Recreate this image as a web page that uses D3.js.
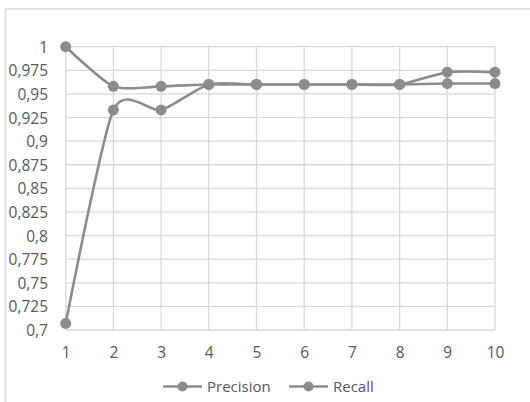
<!DOCTYPE html>
<html>
<head>
<meta charset="utf-8">
<script src="https://cdn.jsdelivr.net/npm/d3@7"></script>
<style>
  html, body { margin: 0; padding: 0; background: #fff; }
  svg { display: block; }
  text { font-family: "Open Sans", "Liberation Sans", sans-serif; fill: #595959; }
</style>
</head>
<body>
<svg id="chart" width="530" height="402"></svg>
<script>
// Data
const categories = [1, 2, 3, 4, 5, 6, 7, 8, 9, 10];
const precision = [1.000, 0.958, 0.958, 0.960, 0.960, 0.960, 0.960, 0.960, 0.961, 0.961];
const recall    = [0.707, 0.933, 0.933, 0.960, 0.960, 0.960, 0.960, 0.960, 0.973, 0.973];
const yTicks = [0.7, 0.725, 0.75, 0.775, 0.8, 0.825, 0.85, 0.875, 0.9, 0.925, 0.95, 0.975, 1];
const seriesNames = ["Precision", "Recall"];

const svg = d3.select("#chart");
const W = 530, H = 402;
const lineColor = "#8c8c8c";
const gridColor = "#d9d9d9";

svg.append("rect").attr("width", W).attr("height", H).attr("fill", "#fff");

// chart frame (only its top and left edges fall inside the view)
svg.append("rect")
  .attr("x", 5.5).attr("y", 9)
  .attr("width", 700).attr("height", 600)
  .attr("fill", "none").attr("stroke", gridColor).attr("stroke-width", 1.5);

const x = d3.scaleLinear().domain([1, 10]).range([65.7, 495]);
const y = d3.scaleLinear().domain([0.7, 1]).range([330, 46.7]);

// gridlines
const grid = svg.append("g");
grid.selectAll("line.h").data(yTicks).join("line")
  .attr("x1", x(1)).attr("x2", x(10))
  .attr("y1", d => y(d)).attr("y2", d => y(d))
  .attr("stroke", gridColor).attr("stroke-width", 1.3);
grid.selectAll("line.v").data(categories).join("line")
  .attr("y1", y(0.7)).attr("y2", y(1))
  .attr("x1", d => x(d)).attr("x2", d => x(d))
  .attr("stroke", gridColor).attr("stroke-width", 1.3);

// y-axis labels, clipped by the frame
svg.append("clipPath").attr("id", "frameClip")
  .append("rect").attr("x", 6.5).attr("y", 0).attr("width", W).attr("height", H);

const fmt = v => d3.format("")(+v.toFixed(3)).replace(".", ",");
const yAxis = d3.axisLeft(y).tickValues(yTicks).tickSize(0).tickPadding(0).tickFormat(fmt);
const gy = svg.append("g")
  .attr("clip-path", "url(#frameClip)")
  .append("g").attr("transform", "translate(48,0)")
  .call(yAxis);
gy.select(".domain").remove();
gy.selectAll("text")
  .attr("font-size", 15.5)
  .attr("font-family", "'Open Sans', sans-serif")
  .attr("fill", "#595959")
  .attr("dy", "0.36em");

// x-axis labels
const xAxis = d3.axisBottom(x).tickValues(categories).tickSize(0).tickPadding(0).tickFormat(d3.format("d"));
const gx = svg.append("g").attr("transform", "translate(0,344)").call(xAxis);
gx.select(".domain").remove();
gx.selectAll("text")
  .attr("font-size", 15.5)
  .attr("font-family", "'Open Sans', sans-serif")
  .attr("fill", "#595959")
  .attr("dy", "0.9em");

// smoothed series lines + markers
const line = d3.line()
  .x((d, i) => x(categories[i]))
  .y(d => y(d))
  .curve(d3.curveCardinal.tension(0.3));

[precision, recall].forEach(vals => {
  svg.append("path")
    .attr("d", line(vals))
    .attr("fill", "none")
    .attr("stroke", lineColor)
    .attr("stroke-width", 2.6)
    .attr("stroke-linecap", "round");
  svg.append("g").selectAll("circle").data(vals).join("circle")
    .attr("cx", (d, i) => x(categories[i]))
    .attr("cy", d => y(d))
    .attr("r", 5.5)
    .attr("fill", lineColor);
});

// legend
const legend = svg.append("g").attr("transform", "translate(0,386.5)");
const legendX = [163, 289];
seriesNames.forEach((name, i) => {
  const g = legend.append("g").attr("transform", `translate(${legendX[i]},0)`);
  g.append("line").attr("x1", 0).attr("x2", 39).attr("y1", 0).attr("y2", 0)
    .attr("stroke", lineColor).attr("stroke-width", 2.6);
  g.append("circle").attr("cx", 19.5).attr("cy", 0).attr("r", 5).attr("fill", lineColor);
  g.append("text").attr("x", 44).attr("y", 0).attr("dy", "0.36em")
    .attr("font-size", 15)
    .text(name);
});
</script>
</body>
</html>
